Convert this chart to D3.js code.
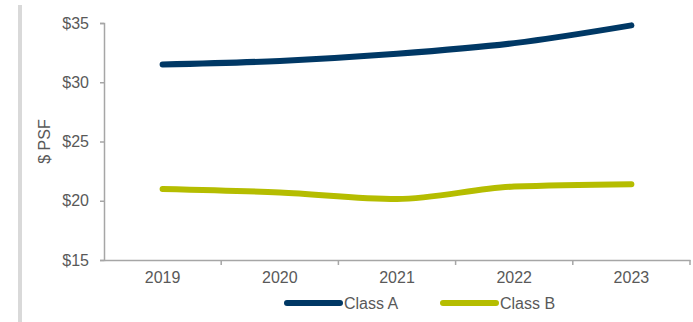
<!DOCTYPE html>
<html>
<head>
<meta charset="utf-8">
<script src="https://cdn.jsdelivr.net/npm/d3@7"></script>
<style>
  body { margin: 0; background: #fff; }
  svg text { font-family: "Liberation Sans", Arial, sans-serif; }
</style>
</head>
<body>
<div id="chart"></div>
<script>
// chart data
const years = ["2019", "2020", "2021", "2022", "2023"];
const classA = [31.5, 31.8, 32.4, 33.3, 34.8];
const classB = [21.0, 20.7, 20.15, 21.2, 21.4];
const yTicks = [15, 20, 25, 30, 35];
const seriesNames = ["Class A", "Class B"];
const seriesColors = ["#003865", "#b5bd00"];

const W = 693, H = 322;
const margin = { top: 23, right: 3, bottom: 62, left: 104 };
const width = W - margin.left - margin.right;
const height = H - margin.top - margin.bottom;

const svg = d3.select("#chart").append("svg")
    .attr("width", W)
    .attr("height", H);

// grey bar on the left edge
svg.append("rect")
    .attr("x", 18).attr("y", 5)
    .attr("width", 4).attr("height", H - 5)
    .attr("fill", "#d9d9d9");

const g = svg.append("g")
    .attr("transform", `translate(${margin.left},${margin.top})`);

const x = d3.scaleBand().domain(years).range([0, width]);
const y = d3.scaleLinear().domain([15, 35]).range([height, 0]);

// y axis
const yAxis = g.append("g")
    .call(d3.axisLeft(y).tickValues(yTicks).tickFormat(d => "$" + d).tickSize(4).tickSizeOuter(4).tickPadding(11));
yAxis.select(".domain").attr("stroke", "#a6a6a6").attr("stroke-width", 1.5);
yAxis.selectAll(".tick line").attr("stroke", "#a6a6a6").attr("stroke-width", 1.5);
yAxis.selectAll("text").attr("fill", "#595959").style("font-size", "16px");

// x axis, ticks between the categories
const xAxis = g.append("g")
    .attr("transform", `translate(0,${height})`)
    .call(d3.axisBottom(x).tickSize(0).tickPadding(12));
xAxis.select(".domain").attr("stroke", "#a6a6a6").attr("stroke-width", 1.5);
xAxis.selectAll("text").attr("fill", "#595959").style("font-size", "16px");
xAxis.selectAll(".sep")
    .data(years)
    .enter().append("line")
    .attr("class", "sep")
    .attr("x1", d => x(d) + x.bandwidth()).attr("x2", d => x(d) + x.bandwidth())
    .attr("y1", 0).attr("y2", 5)
    .attr("stroke", "#a6a6a6").attr("stroke-width", 1.5);

// y axis title
g.append("text")
    .attr("transform", `translate(${-54},${height / 2}) rotate(-90)`)
    .attr("text-anchor", "middle")
    .attr("fill", "#595959")
    .style("font-size", "16px")
    .text("$ PSF");

const line = d3.line()
    .x((d, i) => x(years[i]) + x.bandwidth() / 2)
    .y(d => y(d))
    .curve(d3.curveMonotoneX);

[classA, classB].forEach((s, i) => {
    g.append("path")
        .datum(s)
        .attr("fill", "none")
        .attr("stroke", seriesColors[i])
        .attr("stroke-width", 6)
        .attr("stroke-linecap", "round")
        .attr("stroke-linejoin", "round")
        .attr("d", line);
});

// legend
const legendX = [287, 443];
const legend = svg.append("g");
seriesNames.forEach((name, i) => {
    legend.append("line")
        .attr("x1", legendX[i]).attr("x2", legendX[i] + 53)
        .attr("y1", 303).attr("y2", 303)
        .attr("stroke", seriesColors[i])
        .attr("stroke-width", 6)
        .attr("stroke-linecap", "round");
    legend.append("text")
        .attr("x", legendX[i] + 57).attr("y", 308.5)
        .attr("fill", "#595959")
        .style("font-size", "16px")
        .text(name);
});
</script>
</body>
</html>
